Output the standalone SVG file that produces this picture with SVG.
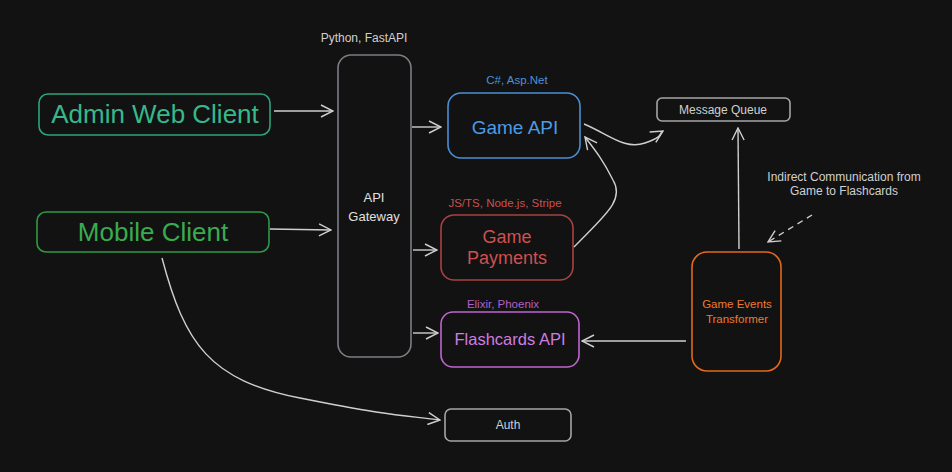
<svg xmlns="http://www.w3.org/2000/svg" width="952" height="472" viewBox="0 0 952 472">
<style>
text{font-family:"Liberation Sans","DejaVu Sans",sans-serif;text-anchor:middle;dominant-baseline:central}
.box{fill:none;stroke-width:1.6}
.conn path{fill:none;stroke:#cfcfcf;stroke-width:1.4}
.small{font-size:12px;fill:#d0d0d0}
</style>
<defs>
<marker id="ah" viewBox="0 0 14 14" refX="13" refY="7" markerWidth="14" markerHeight="14" markerUnits="userSpaceOnUse" orient="auto">
<path d="M1,1 L13,7 L1,13" fill="none" stroke="#cfcfcf" stroke-width="1.4"/>
</marker>
</defs>
<rect width="952" height="472" fill="#121212"/>

<g id="admin-web-client">
<rect class="box" x="39" y="94" width="231" height="41" rx="9" stroke="#2ba57b"/>
<text x="155" y="114" font-size="26" fill="#36b88a">Admin Web Client</text>
</g>
<g id="mobile-client">
<rect class="box" x="37" y="212" width="232" height="40" rx="9" stroke="#2f9a45"/>
<text x="153" y="232" font-size="26" fill="#3aab4e">Mobile Client</text>
</g>
<g id="api-gateway">
<text class="small" x="364" y="38">Python, FastAPI</text>
<rect class="box" x="338" y="55" width="73" height="302" rx="13" stroke="#7a7f85"/>
<text x="374" y="197" font-size="13" fill="#e0e0e0">API</text>
<text x="374" y="216" font-size="13" fill="#e0e0e0">Gateway</text>
</g>
<g id="game-api">
<text x="517" y="80" font-size="11.5" fill="#4a92d8">C#, Asp.Net</text>
<rect class="box" x="448" y="93" width="132" height="65" rx="13" stroke="#4a8fd6"/>
<text x="515" y="127" font-size="19" fill="#4c9be6">Game API</text>
</g>
<g id="game-payments">
<text x="505" y="203" font-size="11.5" fill="#c95050">JS/TS, Node.js, Stripe</text>
<rect class="box" x="441" y="215" width="132" height="65" rx="13" stroke="#a84242"/>
<text x="507" y="237" font-size="18" fill="#cf5050">Game</text>
<text x="507" y="258" font-size="18" fill="#cf5050">Payments</text>
</g>
<g id="flashcards-api">
<text x="503" y="304" font-size="11.5" fill="#b55ec6">Elixir, Phoenix</text>
<rect class="box" x="441" y="312" width="138" height="55" rx="12" stroke="#c064d2"/>
<text x="510" y="339" font-size="16.5" fill="#d07ce0">Flashcards API</text>
</g>
<g id="auth">
<rect class="box" x="445" y="409" width="126" height="32" rx="6" stroke="#a6a6a6"/>
<text x="508" y="425" font-size="12" fill="#d0d0d0">Auth</text>
</g>
<g id="message-queue">
<rect class="box" x="657" y="98" width="133" height="23" rx="5" stroke="#a6a6a6"/>
<text x="723" y="110" font-size="12" fill="#d0d0d0">Message Queue</text>
</g>
<g id="game-events-transformer">
<rect class="box" x="692" y="252" width="89" height="119" rx="15" stroke="#e2681f"/>
<text x="737" y="304" font-size="11.5" fill="#ee7a30">Game Events</text>
<text x="737" y="319" font-size="11.5" fill="#ee7a30">Transformer</text>
</g>
<g id="annotation">
<text class="small" x="844" y="177">Indirect Communication from</text>
<text class="small" x="844" y="191">Game to Flashcards</text>
</g>

<g id="connectors" class="conn">
<path d="M274,111 L333,111" marker-end="url(#ah)"/>
<path d="M270,229 L331,230" marker-end="url(#ah)"/>
<path d="M412,127 L441,127" marker-end="url(#ah)"/>
<path d="M413,250 L437,250" marker-end="url(#ah)"/>
<path d="M413,333 L438,333" marker-end="url(#ah)"/>
<path d="M162,258 C185,345 210,380 300,398 S400,415 440,420" marker-end="url(#ah)"/>
<path d="M584,124 C610,135 625,150 645,143 S658,134 663,131" marker-end="url(#ah)"/>
<path d="M574,247 C605,215 625,200 613,180 C603,160 595,150 585,137" marker-end="url(#ah)"/>
<path d="M739,249 L738,128" marker-end="url(#ah)"/>
<path d="M686,341 L582,341" marker-end="url(#ah)"/>
<path d="M812,215 L768,242" stroke-dasharray="6 5" marker-end="url(#ah)"/>
</g>
</svg>
